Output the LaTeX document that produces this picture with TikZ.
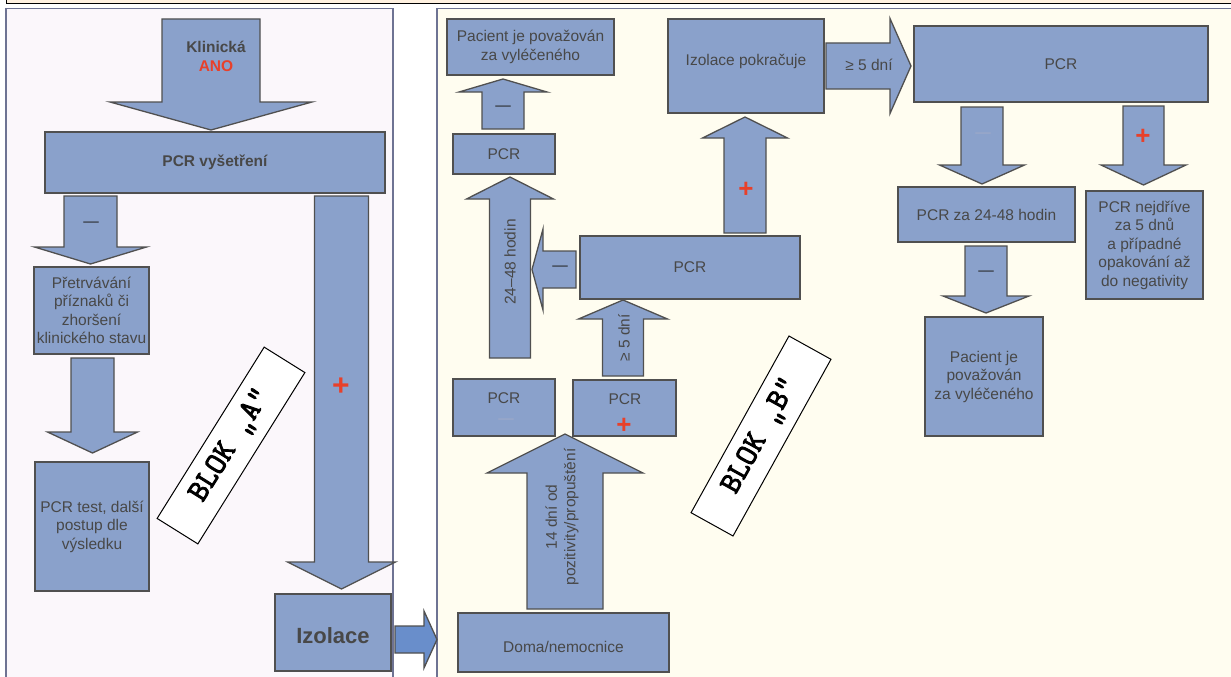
\documentclass[tikz,border=0pt]{standalone}
\usepackage{fontspec}
\setmainfont{Liberation Sans}
\newfontfamily\monofam{Latin Modern Mono}[FakeBold=3]
\definecolor{boxfill}{RGB}{138,161,203}
\definecolor{boxline}{RGB}{80,80,80}
\definecolor{txt}{RGB}{72,72,72}
\definecolor{redp}{RGB}{232,64,42}
\definecolor{lpanel}{RGB}{251,247,251}
\definecolor{rpanel}{RGB}{255,253,240}
\definecolor{pline}{RGB}{110,115,147}
\definecolor{bluearr}{RGB}{105,142,203}
\definecolor{topfill}{RGB}{255,241,224}
\definecolor{faint}{RGB}{160,170,200}
\newcommand{\fs}{\fontsize{15.5}{18.5}\selectfont}
\newcommand{\blockV}[7][]{\path[arr,#1] (#2-#4,#3) -- (#2+#4,#3) -- (#2+#4,#5) -- (#2+#6,#5) -- (#2,#7) -- (#2-#6,#5) -- (#2-#4,#5) -- cycle;}
\newcommand{\blockH}[7][]{\path[arr,#1] (#3,#2-#4) -- (#3,#2+#4) -- (#5,#2+#4) -- (#5,#2+#6) -- (#7,#2) -- (#5,#2-#6) -- (#5,#2-#4) -- cycle;}
\tikzset{
  box/.style={draw=boxline, fill=boxfill, line width=1.3pt, inner sep=0pt, align=center, font=\fs, text=txt},
  arr/.style={draw=boxline, fill=boxfill, line width=1.3pt, line join=miter},
  lbl/.style={inner sep=0pt, align=center, font=\fs, text=txt},
  dsh/.style={inner sep=0pt, font=\fs, text=black!85},
  fdsh/.style={inner sep=0pt, font=\fs, text=faint},
  pls/.style={inner sep=0pt, font=\bfseries\fontsize{26}{26}\selectfont, text=redp},
  blok/.style={draw=black, fill=white, line width=1pt, minimum width=202pt, minimum height=48pt, inner sep=0pt, font={\monofam\bfseries\fontsize{31}{31}\selectfont}, text=black},
  panel/.style={draw=pline, line width=1.2pt}
}
\begin{document}
\begin{tikzpicture}[x=1pt,y=-1pt]
\useasboundingbox (0,0) rectangle (1231,677);
\clip (0,0) rectangle (1231,677);
\fill[white] (0,0) rectangle (1231,677);
% top strip and panels
\path[draw=black, fill=topfill, line width=1pt] (6,-10) rectangle (1245,3.2);
\path[panel, fill=lpanel] (6,8.5) rectangle (393,700);
\path[panel, fill=rpanel] (437,8.5) rectangle (1245,700);

% ---------- BLOK A ----------
\blockV{211}{19}{49}{102}{101}{130}
\node[lbl, font=\bfseries\fs] (klin) at (216,47) {Klinická};
\node[lbl, font=\bfseries\fs, text=redp] (ano) at (216,66) {ANO};
\node[box, minimum width=340pt, minimum height=61pt, font=\bfseries\fs] (pcrv) at (215,162.5) {PCR vyšetření};
\blockV{90.5}{196}{26.5}{247}{56}{264}
\node[dsh] (m1) at (91,224) {—};
\node[box, minimum width=115pt, minimum height=87pt] (pretr) at (91.5,310.5) {Přetrvávání\\příznaků či\\zhoršení\\klinického stavu};
\blockV{92.5}{358}{21.5}{432}{45}{453}
\node[box, minimum width=114pt, minimum height=129pt] (pcrtest) at (92,526.5) {PCR test, další\\postup dle\\výsledku};
\blockV{341.5}{196}{27}{562}{54}{589}
\node[pls, font=\bfseries\fontsize{30}{30}\selectfont] (p1) at (341,387) {+};
\node[box, minimum width=116pt, minimum height=77pt] (izol) at (333,632.5) {};
\node[lbl, font=\bfseries\fontsize{22}{22}\selectfont] (izolt) at (333,636) {Izolace};
\node[blok, rotate=58] (blokA) at (231,445.5) {BLOK „A“};

% arrow between panels
\blockH[fill=bluearr]{639.5}{395}{13.5}{424}{28.5}{437}

% ---------- BLOK B ----------
\node[box, minimum width=167pt, minimum height=56pt] (pac1) at (530.5,47) {Pacient je považován\\za vyléčeného};
\blockV{503}{129}{21}{92}{44}{79}
\node[dsh] (m2) at (503,108) {—};
\node[box, minimum width=102pt, minimum height=40pt] (pcr1) at (504,154) {PCR};
\blockV{510}{358}{20.5}{199}{43.5}{177}
\node[lbl, rotate=90] (h2448) at (510,262) {24–48 hodin};
\blockH{269.5}{576}{18.5}{543}{40.5}{532}
\node[dsh] (m3) at (560,268) {—};
\node[box, minimum width=220pt, minimum height=63pt] (pcr2) at (690,267.5) {PCR};
\blockV{745}{233}{21}{138}{42.5}{117}
\node[pls] (p2) at (746,190) {+};
\node[box, minimum width=156pt, minimum height=94pt] (izp) at (746,66) {};
\node[lbl] (izpt) at (746,61) {Izolace pokračuje};
\blockH{66}{826}{23}{890}{47.5}{911}
\node[lbl] (d5a) at (869,65) {≥ 5 dní};
\node[box, minimum width=294pt, minimum height=76pt] (pcr3) at (1061,64) {PCR};
\blockV{982}{107}{21}{165}{42.5}{184}
\node[fdsh] (m4) at (983,135) {—};
\blockV{1143.5}{106}{20.5}{165}{42.5}{185}
\node[pls] (p3) at (1143,137) {+};
\node[box, minimum width=177pt, minimum height=55pt] (pcr24) at (986.5,214.5) {PCR za 24-48 hodin};
\node[box, minimum width=117pt, minimum height=108pt] (pcrnej) at (1144.5,245) {PCR nejdříve\\za 5 dnů\\a případné\\opakování až\\do negativity};
\blockV{986}{246}{21}{296}{43}{313}
\node[dsh] (m5) at (986,273) {—};
\node[box, minimum width=118pt, minimum height=119pt] (pac2) at (984,376.5) {Pacient je\\považován\\za vyléčeného};

\blockV{623}{376}{20.5}{319}{44.5}{300}
\node[lbl, rotate=90] (d5b) at (624,338) {≥ 5 dní};
\node[box, minimum width=102pt, minimum height=57pt] (pcr4) at (504,407.5) {};
\node[lbl] (pcr4t) at (504,398) {PCR};
\node[fdsh] (m6) at (506,421) {—};
\node[box, minimum width=103pt, minimum height=56pt] (pcr5) at (624.5,408) {};
\node[lbl] (pcr5t) at (625,399) {PCR};
\node[pls] (p4) at (624,426) {+};
\blockV{565}{609}{38}{473}{78}{434}
\node[lbl, rotate=90] (d14) at (562,517) {14 dní od\\pozitivity/propuštění};
\node[box, minimum width=211pt, minimum height=59pt] (doma) at (563.5,642.5) {};
\node[lbl] (domat) at (563.5,647) {Doma/nemocnice};
\node[blok, rotate=61] (blokB) at (761,436) {BLOK „B“};
\end{tikzpicture}
\end{document}
